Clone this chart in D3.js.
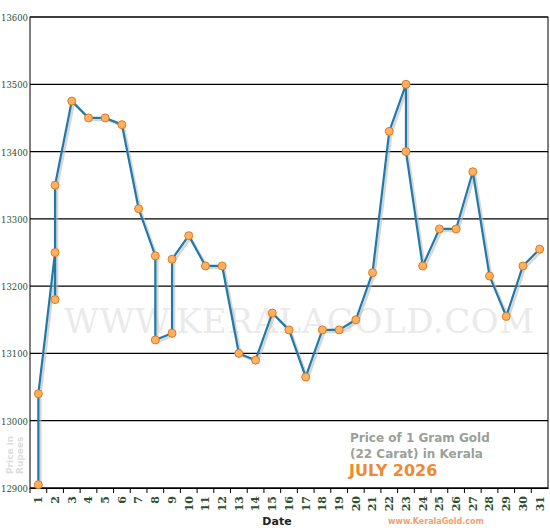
<!DOCTYPE html><html><head><script src="https://cdn.jsdelivr.net/npm/d3@7"></script>
<style>body{margin:0;background:#fff}</style></head><body><svg id="c" width="550" height="530"></svg>
<script>
const dates=d3.range(1,32);
const seqDates=[1,1,2,2,2,3,4,5,6,7,8,8,9,9,10,11,12,13,14,15,16,17,18,19,20,21,22,23,23,24,25,26,27,28,29,30,31];
const prices=[12905,13040,13250,13180,13350,13475,13450,13450,13440,13315,13245,13120,13130,13240,13275,13230,13230,13100,13090,13160,13135,13065,13135,13135,13150,13220,13430,13500,13400,13230,13285,13285,13370,13215,13155,13230,13255];
const yTicks=[12900,13000,13100,13200,13300,13400,13500,13600];
const svg=d3.select("#c");
const L=30,R=548,T=17,B=488;
const x=d3.scaleBand().domain(dates).range([L,R]);
const y=d3.scaleLinear().domain([12900,13600]).range([B,T]);
svg.append("rect").attr("x",L).attr("y",T).attr("width",R-L).attr("height",B-T).attr("fill","#fff").attr("stroke","#000");
svg.append("text").attr("x",(L+R)/2+10).attr("y",333).attr("text-anchor","middle").attr("font-family","DejaVu Serif").attr("font-size",34).attr("fill","#eaeaea").attr("textLength",470).text("WWW.KERALAGOLD.COM");
yTicks.forEach(v=>{svg.append("line").attr("x1",L).attr("x2",R).attr("y1",y(v)).attr("y2",y(v)).attr("stroke","#000").attr("stroke-width",1.2);
svg.append("text").attr("x",28).attr("y",y(v)+4).attr("text-anchor","end").attr("font-family","DejaVu Serif Condensed, DejaVu Serif").attr("font-size",10).attr("fill","#2f4f2f").attr("textLength",27).attr("lengthAdjust","spacingAndGlyphs").text(v);});
const xa=svg.append("g").attr("transform",`translate(0,${B})`).call(d3.axisBottom(x).tickSize(5).tickSizeOuter(0));
xa.select(".domain").attr("stroke","#000");
xa.selectAll(".tick line").attr("transform",`translate(${-x.bandwidth()/2},0)`);
xa.selectAll("text").attr("transform","rotate(-90)").attr("x",-8).attr("dy","0.35em").attr("y",0).attr("text-anchor","end").attr("font-family","DejaVu Serif").attr("font-size",11).attr("font-weight","bold").attr("fill","#2f4f2f");
const cx=d=>x(d)+x.bandwidth()/2;
const pts=seqDates.map((d,i)=>[cx(d),y(prices[i])]);
svg.append("path").attr("d",d3.line()(pts.map(p=>[p[0]+2,p[1]+2]))).attr("fill","none").attr("stroke","#bbb").attr("stroke-width",2.5).attr("opacity",0.6);
svg.append("path").attr("d",d3.line()(pts)).attr("fill","none").attr("stroke","#2179a8").attr("stroke-width",2.2);
svg.selectAll("circle").data(pts).join("circle").attr("cx",d=>d[0]).attr("cy",d=>d[1]).attr("r",4).attr("fill","#ffb060").attr("stroke","#e07a20").attr("stroke-width",1);
svg.append("text").attr("x",277).attr("y",525).attr("text-anchor","middle").attr("font-family","DejaVu Sans").attr("font-weight","bold").attr("font-size",11).attr("fill","#222").text("Date");
svg.append("text").attr("x",436).attr("y",524).attr("text-anchor","middle").attr("font-family","DejaVu Sans").attr("font-weight","bold").attr("font-size",8).attr("fill","#f0a070").text("www.KeralaGold.com");
const tt=svg.append("g").attr("font-family","DejaVu Sans").attr("font-weight","bold");
tt.append("text").attr("x",350).attr("y",442).attr("font-size",12).attr("fill","#9aa09a").text("Price of 1 Gram Gold");
tt.append("text").attr("x",350).attr("y",458).attr("font-size",12).attr("fill","#9aa09a").text("(22 Carat) in Kerala");
tt.append("text").attr("x",349).attr("y",476).attr("font-size",16).attr("fill","#f08a30").text("JULY 2026");
const yl=svg.append("g").attr("transform","translate(13,474) rotate(-90)").attr("font-family","DejaVu Sans").attr("font-weight","bold").attr("font-size",9).attr("fill","#ddd");
yl.append("text").attr("x",0).attr("y",0).text("Price in");
yl.append("text").attr("x",0).attr("y",10).text("Rupees");
</script></body></html>
